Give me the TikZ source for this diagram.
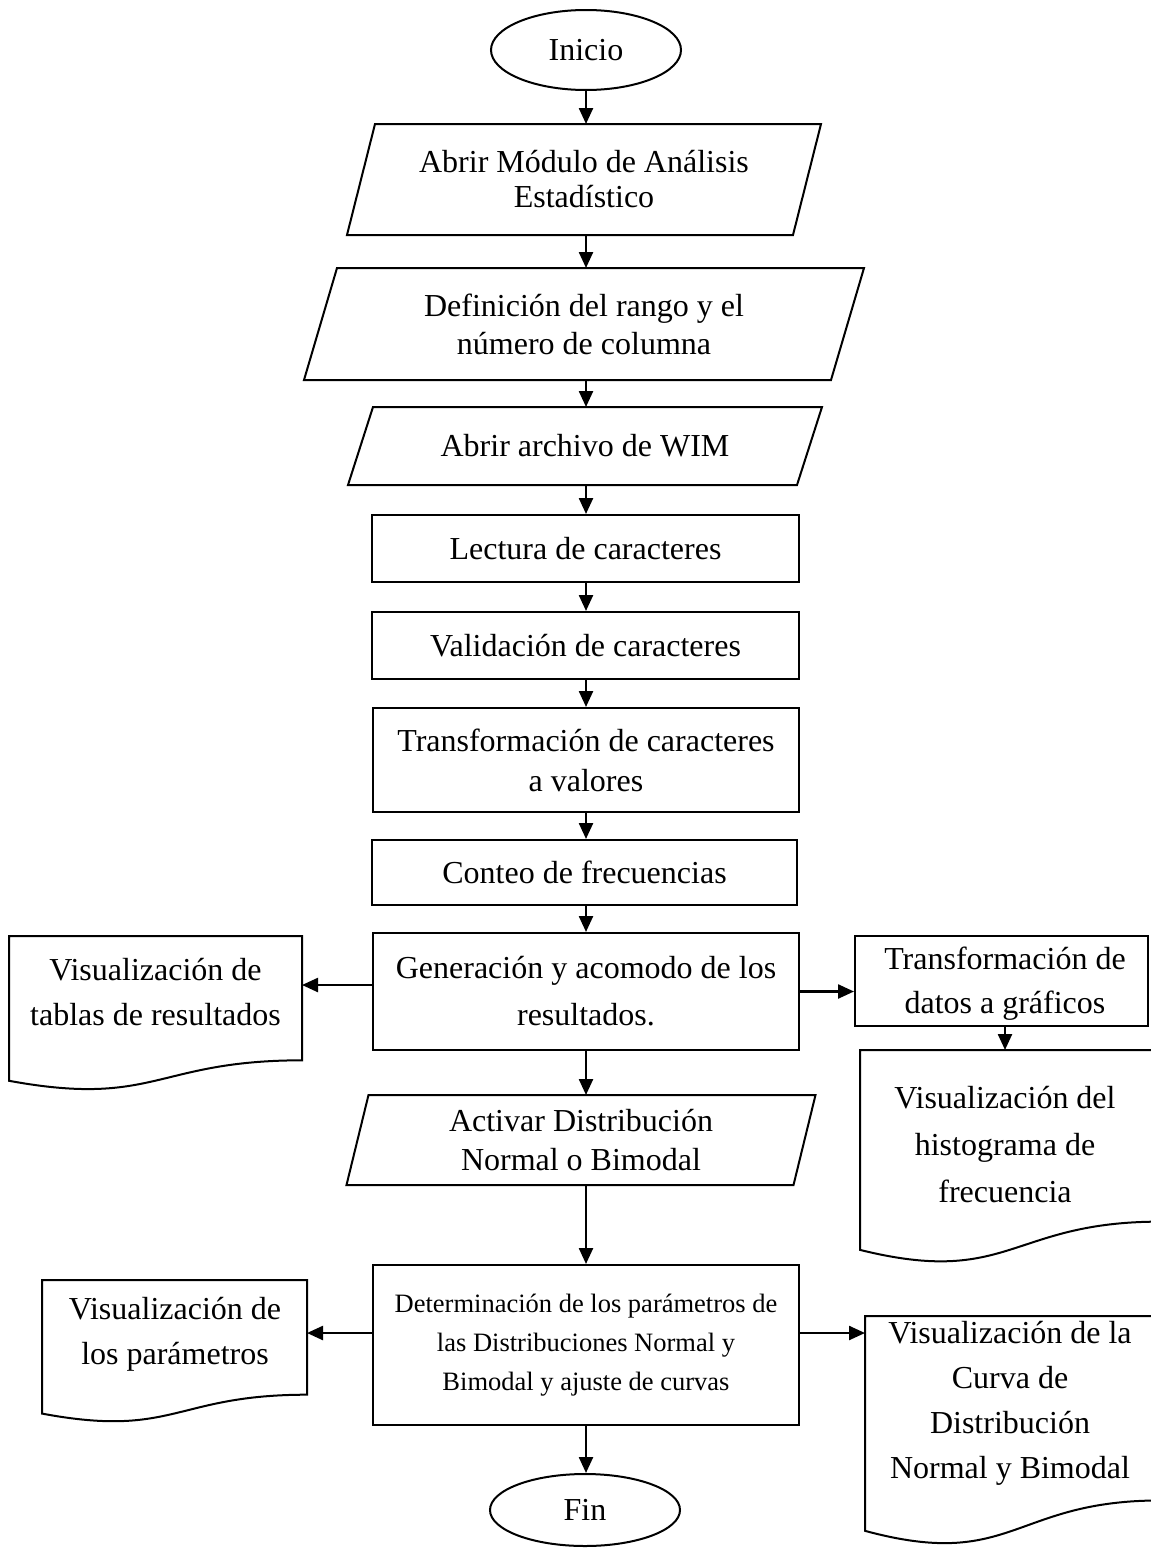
\documentclass[tikz,border=0pt]{standalone}
\usepackage{fontspec}
\setmainfont{Liberation Serif}
\usetikzlibrary{arrows.meta,shapes.geometric,calc}

\tikzset{
  txt/.style={font=\fontsize{32}{#1}\selectfont},
  txt/.default=38,
  outline/.style={draw, line width=2pt, line join=miter},
  term/.style={draw, ellipse, line width=2pt, inner sep=0pt, minimum width=190pt, minimum height=80pt, txt},
  proc/.style={draw, rectangle, line width=2pt, inner sep=0pt, align=center},
  io/.style={rectangle, inner sep=0pt, outer sep=0pt, align=center},
  docbox/.style={rectangle, inner sep=0pt, outer sep=0pt, anchor=north west},
  doctext/.style={inner sep=0pt, align=center},
  arr/.style={line width=2.4pt, -{Triangle[length=16pt,width=14pt]}}
}

% data parallelogram drawn around a node: #1 node, #2 half of the horizontal slant
\newcommand\slanted[2]{%
  \draw[outline] ([xshift=#2]#1.north west) -- ([xshift=#2]#1.north east)
    -- ([xshift=-#2]#1.south east) -- ([xshift=-#2]#1.south west) -- cycle;}

% document symbol (wavy bottom) drawn on the box of a node
\newcommand\docoutline[1]{%
  \draw[outline] let \p1=(#1.north west), \p2=(#1.south east), \n1={\y1-\y2} in
    (\p1) -- (\x2,\y1) -- (\x2,{\y1-0.802*\n1})
    .. controls ({0.5*\x1+0.5*\x2},{\y1-0.802*\n1}) and ({0.5*\x1+0.5*\x2},{\y1-1.108*\n1})
    .. (\x1,{\y1-0.934*\n1}) -- cycle;}

\begin{document}
\begin{tikzpicture}[x=1pt,y=-1pt]
\useasboundingbox (0,0) rectangle (1151,1550);

% main column
\node[term] (ini) at (586,50) {Inicio};

\node[io, txt=35, minimum width=446pt, minimum height=111pt] (p1) at (584,179.5)
  {Abrir Módulo de Análisis\\Estadístico};
\slanted{p1}{14pt}

\node[io, txt=38, minimum width=527pt, minimum height=112pt] (p2) at (584,324)
  {Definición del rango y el\\número de columna};
\slanted{p2}{16.5pt}

\node[io, txt, minimum width=449pt, minimum height=78pt] (p3) at (585,446)
  {Abrir archivo de WIM};
\slanted{p3}{12.5pt}

\node[proc, txt, minimum width=427pt, minimum height=67pt] (lec) at (585.5,548.5)
  {Lectura de caracteres};
\node[proc, txt, minimum width=427pt, minimum height=67pt] (val) at (585.5,645.5)
  {Validación de caracteres};
\node[proc, txt=40, minimum width=426pt, minimum height=104pt] (tra) at (586,760)
  {Transformación de caracteres\\a valores};
\node[proc, txt, minimum width=425pt, minimum height=65pt] (con) at (584.5,872.5)
  {Conteo de frecuencias};
\node[proc, txt=47, minimum width=426pt, minimum height=117pt] (gen) at (586,991.5)
  {Generación y acomodo de los\\resultados.};

\node[io, txt=39, minimum width=447pt, minimum height=90pt] (p4) at (581,1140)
  {Activar Distribución\\Normal o Bimodal};
\slanted{p4}{11pt}

\node[proc, font=\fontsize{26.5}{39}\selectfont, minimum width=426pt, minimum height=160pt] (det) at (586,1345)
  {Determinación de los parámetros de\\las Distribuciones Normal y\\Bimodal y ajuste de curvas};

\node[term, minimum height=72pt] (fin) at (585,1510) {Fin};

% side outputs
\node[docbox, minimum width=293pt, minimum height=155pt] (d1) at (9,936) {};
\docoutline{d1}
\node[doctext, txt=45] (d1t) at (155.5,992) {Visualización de\\tablas de resultados};

\node[proc, minimum width=293pt, minimum height=90pt] (tdg) at (1001.5,981) {};
\node[doctext, txt=44] (tdgt) at (1005,984) {Transformación de\\datos a gráficos};

\node[docbox, minimum width=300pt, minimum height=214pt] (d2) at (860,1050) {};
\docoutline{d2}
\node[doctext, txt=47] (d2t) at (1005,1145) {Visualización del\\histograma de\\frecuencia};

\node[docbox, minimum width=265pt, minimum height=143pt] (d3) at (42,1280) {};
\docoutline{d3}
\node[doctext, txt=45] (d3t) at (175,1334) {Visualización de\\los parámetros};

\node[docbox, minimum width=295pt, minimum height=230pt] (d4) at (865,1316) {};
\docoutline{d4}
\node[doctext, txt=45] (d4t) at (1010,1403) {Visualización de la\\Curva de\\Distribución\\Normal y Bimodal};

% connectors
\draw[arr] (ini.south) -- (ini.south |- p1.north);
\draw[arr] (p1.south -| ini) -- (p2.north -| ini);
\draw[arr] (p2.south -| ini) -- (p3.north -| ini);
\draw[arr] (p3.south -| ini) -- (lec.north -| ini);
\draw[arr] (lec.south -| ini) -- (val.north -| ini);
\draw[arr] (val.south -| ini) -- (tra.north -| ini);
\draw[arr] (tra.south -| ini) -- (con.north -| ini);
\draw[arr] (con.south -| ini) -- (gen.north -| ini);
\draw[arr] ([yshift=6.5pt]gen.west) -- ([yshift=6.5pt]gen.west -| d1.east);
\draw[arr] (gen.east) -- (gen.east -| tdg.west);
\draw[arr] (tdg.south -| tdgt) -- (tdgt |- d2.north);
\draw[arr] (gen.south) -- (gen.south |- p4.north);
\draw[arr] (det.north |- p4.south) -- (det.north);
\draw[arr] ([yshift=12pt]det.west) -- ([yshift=12pt]det.west -| d3.east);
\draw[arr] ([yshift=12pt]det.east) -- ([yshift=12pt]det.east -| d4.west);
\draw[arr] (det.south) -- (det.south |- fin.north);
\end{tikzpicture}
\end{document}
